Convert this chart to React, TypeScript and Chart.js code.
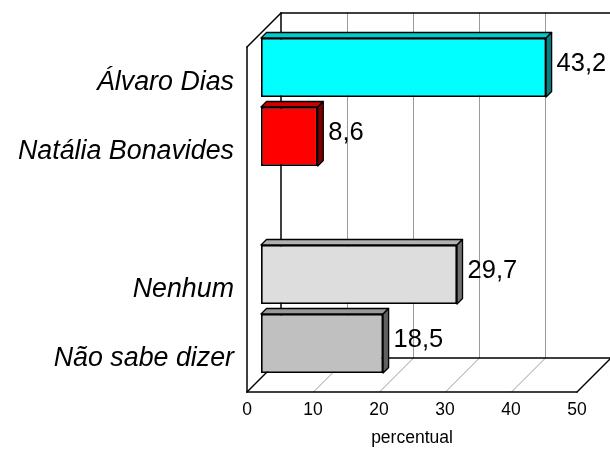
import React, { useEffect, useRef } from "react";
import { Chart, registerables } from "chart.js";

Chart.register(...registerables);

const categories = ["Álvaro Dias", "Natália Bonavides", "", "Nenhum", "Não sabe dizer"];
const values: (number | null)[] = [43.2, 8.6, null, 29.7, 18.5];
const fills = ["#00FFFF", "#FF0000", "#FFFFFF", "#DDDDDD", "#C0C0C0"];
const tops = ["#00CCCC", "#CC0000", "#FFFFFF", "#B1B1B1", "#999999"];
const sides = ["#008080", "#800000", "#FFFFFF", "#6F6F6F", "#606060"];
const xTicks = [0, 10, 20, 30, 40, 50];

const DEPTH = 34;
const BAR_SHIFT = 14;
const BAR_DEPTH = 5.5;
const FONT = "'Liberation Sans', Arial, sans-serif";

const line = (c: CanvasRenderingContext2D, a: number, b: number, d: number, e: number) => {
  c.beginPath();
  c.moveTo(a, b);
  c.lineTo(d, e);
  c.stroke();
};

const frame3d = {
  id: "frame3d",
  beforeDatasetsDraw(chart: any) {
    const c = chart.ctx as CanvasRenderingContext2D;
    const { left, right, top, bottom } = chart.chartArea;
    const x = chart.scales.x;
    c.save();
    c.lineCap = "round";
    c.strokeStyle = "#9A9A9A";
    c.lineWidth = 1;
    xTicks.slice(1, -1).forEach((v) => {
      const p = Math.round(x.getPixelForValue(v)) + 0.5;
      line(c, p + DEPTH, top - DEPTH, p + DEPTH, bottom - DEPTH);
      line(c, p, bottom, p + DEPTH, bottom - DEPTH);
    });
    c.strokeStyle = "#000000";
    c.lineWidth = 1.5;
    line(c, left, top, left, bottom);
    line(c, left, top, left + DEPTH, top - DEPTH);
    line(c, left + DEPTH, top - DEPTH, left + DEPTH, bottom - DEPTH);
    line(c, left + DEPTH, top - DEPTH, right + DEPTH, top - DEPTH);
    line(c, left, bottom, right, bottom);
    line(c, left, bottom, left + DEPTH, bottom - DEPTH);
    line(c, left + DEPTH, bottom - DEPTH, right + DEPTH, bottom - DEPTH);
    line(c, right, bottom, right + DEPTH, bottom - DEPTH);
    c.restore();
  },
  beforeDatasetDraw(chart: any) {
    const c = chart.ctx as CanvasRenderingContext2D;
    c.save();
    c.translate(BAR_SHIFT, -BAR_SHIFT);
    chart.getDatasetMeta(0).data.forEach((bar: any, i: number) => {
      if (values[i] == null) return;
      const l = bar.base;
      const r = bar.x;
      const t = bar.y - bar.height / 2;
      const b = bar.y + bar.height / 2;
      c.strokeStyle = "#000000";
      c.lineWidth = 1.3;
      c.lineJoin = "round";
      c.fillStyle = tops[i];
      c.beginPath();
      c.moveTo(l, t);
      c.lineTo(l + BAR_DEPTH, t - BAR_DEPTH);
      c.lineTo(r + BAR_DEPTH, t - BAR_DEPTH);
      c.lineTo(r, t);
      c.closePath();
      c.fill();
      c.stroke();
      c.fillStyle = sides[i];
      c.beginPath();
      c.moveTo(r, t);
      c.lineTo(r + BAR_DEPTH, t - BAR_DEPTH);
      c.lineTo(r + BAR_DEPTH, b - BAR_DEPTH);
      c.lineTo(r, b);
      c.closePath();
      c.fill();
      c.stroke();
    });
  },
  afterDatasetDraw(chart: any) {
    chart.ctx.restore();
  },
  afterDatasetsDraw(chart: any) {
    const c = chart.ctx as CanvasRenderingContext2D;
    c.save();
    c.fillStyle = "#000000";
    c.font = `25.5px ${FONT}`;
    c.textAlign = "left";
    c.textBaseline = "middle";
    chart.getDatasetMeta(0).data.forEach((bar: any, i: number) => {
      const v = values[i];
      if (v == null) return;
      c.fillText(v.toFixed(1).replace(".", ","), bar.x + BAR_SHIFT + 10.5, bar.y - BAR_SHIFT - 3.5);
    });
    c.restore();
  },
};

export default function App() {
  const ref = useRef<HTMLCanvasElement>(null);
  useEffect(() => {
    const chart = new Chart(ref.current!, {
      type: "bar",
      data: {
        labels: categories,
        datasets: [
          {
            data: values as any,
            backgroundColor: fills,
            borderColor: "#000000",
            borderWidth: 1.8,
            borderSkipped: false,
            categoryPercentage: 1,
            barPercentage: 0.855,
            clip: false as any,
          },
        ],
      },
      options: {
        indexAxis: "y",
        responsive: false,
        animation: false,
        devicePixelRatio: 1,
        layout: { padding: { top: 47, right: 33, left: 0, bottom: 0 } },
        plugins: { legend: { display: false }, tooltip: { enabled: false } },
        scales: {
          x: {
            min: 0,
            max: 50,
            afterBuildTicks(s: any) {
              s.ticks = xTicks.map((value) => ({ value }));
            },
            afterFit(s: any) {
              s.height = 57;
            },
            grid: { display: false },
            border: { display: false },
            ticks: {
              color: "#000000",
              maxRotation: 0,
              padding: 0,
              font: { family: FONT, size: 17.5 },
            },
            title: {
              display: true,
              text: "percentual",
              color: "#000000",
              padding: { top: 13, bottom: 0 },
              font: { family: FONT, size: 17.5 },
            },
          },
          y: {
            afterFit(s: any) {
              s.width = 247;
            },
            grid: { display: false },
            border: { display: false },
            ticks: {
              color: "#000000",
              padding: 5,
              autoSkip: false,
              labelOffset: 1.5,
              font: { family: FONT, size: 26.8, style: "italic" },
            },
          },
        },
      },
      plugins: [frame3d],
    });
    return () => chart.destroy();
  }, []);
  return (
    <div style={{ position: "absolute", left: 0, top: 0, width: 610, height: 449, background: "#fff" }}>
      <canvas ref={ref} width={610} height={449} style={{ display: "block" }} />
    </div>
  );
}
